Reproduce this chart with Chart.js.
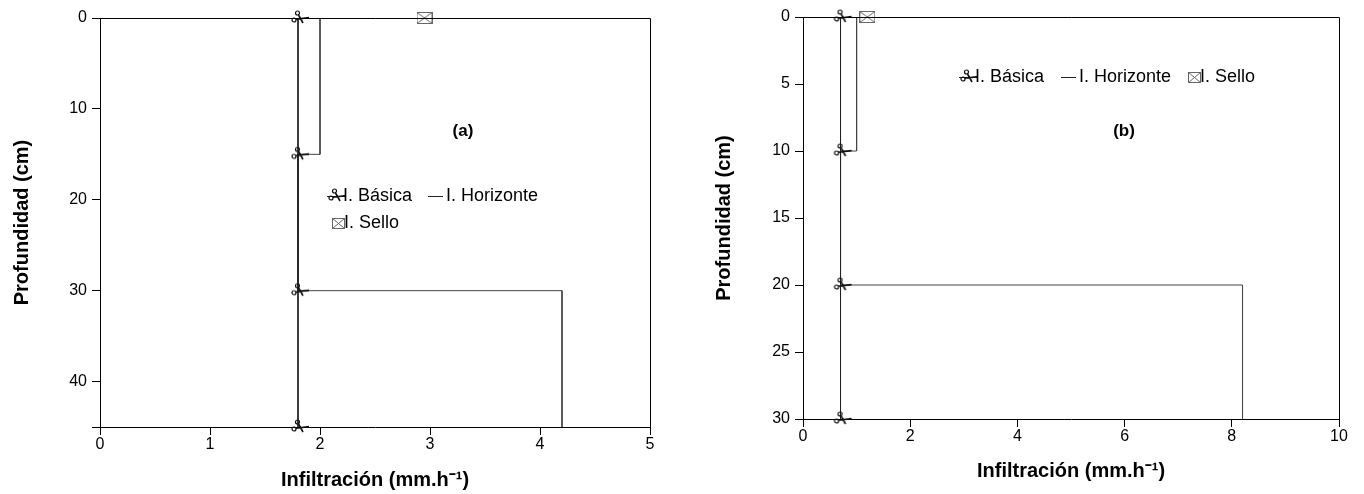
<!DOCTYPE html>
<html>
<head>
<meta charset="utf-8">
<script src="https://cdn.jsdelivr.net/npm/chart.js@4.4.0/dist/chart.umd.min.js"></script>
<style>
  html, body { margin: 0; padding: 0; background: #fff; }
  .panel { position: absolute; top: 0; width: 682px; height: 494px; }
  #wrapA { left: 0; }
  #wrapB { left: 682px; }
</style>
</head>
<body>
<div class="panel" id="wrapA"><canvas id="chartA"></canvas></div>
<div class="panel" id="wrapB"><canvas id="chartB"></canvas></div>
<script>
// panel (a)
var depthBasicaA = [0, 15, 30, 45];
var basicaA = [1.8, 1.8, 1.8, 1.8];
var depthHorizA = [0, 15, 15, 30, 30, 45];
var horizA = [2, 2, 1.8, 1.8, 4.2, 4.2];
var depthSelloA = [0];
var selloA = [2.95];
var xTicksA = [0, 1, 2, 3, 4, 5];
var yTicksA = [0, 10, 20, 30, 40, 45];

// panel (b)
var depthBasicaB = [0, 10, 20, 30];
var basicaB = [0.7, 0.7, 0.7, 0.7];
var depthHorizB = [0, 10, 10, 20, 20, 30];
var horizB = [1.0, 1.0, 0.7, 0.7, 8.2, 8.2];
var depthSelloB = [0];
var selloB = [1.2];
var xTicksB = [0, 2, 4, 6, 8, 10];
var yTicksB = [0, 5, 10, 15, 20, 25, 30];

var FONT = 'Liberation Sans';

function pts(xs, ys) {
  return xs.map(function (x, i) { return {x: x, y: ys[i]}; });
}

// marker images
function scissors() {
  var c = document.createElement('canvas');
  c.width = 24; c.height = 18;
  var g = c.getContext('2d');
  g.strokeStyle = '#111';
  g.lineWidth = 1.2;
  g.beginPath(); g.arc(11.5, 4, 2, 0, Math.PI * 2); g.stroke();
  g.beginPath(); g.arc(8, 11, 2, 0, Math.PI * 2); g.stroke();
  g.lineWidth = 1.6;
  g.beginPath();
  g.moveTo(12.5, 6); g.lineTo(17, 14);
  g.moveTo(9.8, 10.2); g.lineTo(23, 8.6);
  g.stroke();
  return c;
}
function envelope(w, h) {
  var c = document.createElement('canvas');
  c.width = w; c.height = h;
  var g = c.getContext('2d');
  g.strokeStyle = '#666';
  g.lineWidth = 1;
  g.strokeRect(0.5, 0.5, w - 1, h - 1);
  g.beginPath();
  g.moveTo(0.5, 0.5); g.lineTo(w / 2, h / 2); g.lineTo(w - 0.5, 0.5);
  g.moveTo(0.5, h - 0.5); g.lineTo(w / 2, h / 2); g.lineTo(w - 0.5, h - 0.5);
  g.stroke();
  return c;
}
var scissorImg = scissors();
var envImg = envelope(16, 12);
var envSmall = envelope(13, 11);

function datasets(xb, yb, xh, yh, xs, ys) {
  return [
    {label: 'I. Básica', data: pts(xb, yb), showLine: true, borderColor: '#222', borderWidth: 1,
     pointStyle: scissorImg, pointRadius: 6, clip: false},
    {label: 'I. Horizonte', data: pts(xh, yh), showLine: true, borderColor: '#444', borderWidth: 1,
     pointRadius: 0, clip: false},
    {label: 'I. Sello', data: pts(xs, ys), showLine: false, pointStyle: envImg, pointRadius: 7, clip: false}
  ];
}

function xAxis(max, ticks, h, pad) {
  return {
    type: 'linear', position: 'bottom', min: 0, max: max,
    afterBuildTicks: function (s) { s.ticks = ticks.map(function (v) { return {value: v}; }); },
    afterFit: function (s) { s.height = h; },
    grid: {drawOnChartArea: false, drawTicks: true, tickLength: 8, color: '#000'},
    border: {display: true, color: '#000'},
    ticks: {color: '#000', font: {family: FONT, size: 16}, padding: 0, maxRotation: 0, autoSkip: false},
    title: {display: true, text: 'Infiltración (mm.h\u207B\u00B9)', color: '#000',
            font: {family: FONT, size: 20, weight: 'bold'}, padding: {top: 0, bottom: pad}}
  };
}

function yAxis(max, ticks, w, pad) {
  return {
    type: 'linear', position: 'left', reverse: true, min: 0, max: max,
    afterBuildTicks: function (s) { s.ticks = ticks.map(function (v) { return {value: v}; }); },
    afterFit: function (s) { s.width = w; },
    grid: {drawOnChartArea: false, drawTicks: true, tickLength: 8, color: '#000'},
    border: {display: true, color: '#000'},
    ticks: {color: '#000', font: {family: FONT, size: 16}, padding: 5, autoSkip: false,
            callback: function (v) { return v % 5 === 0 && v !== 45 ? v : ''; }},
    title: {display: true, text: 'Profundidad (cm)', color: '#000',
            font: {family: FONT, size: 20, weight: 'bold'}, padding: {top: pad, bottom: 0}}
  };
}

// closes the box, writes the panel tag and the legend
var decor = {
  id: 'decor',
  afterDraw: function (chart, args, o) {
    var a = chart.chartArea, ctx = chart.ctx;
    var t = Math.round(a.top) + 0.5, r = Math.round(a.right) + 0.5;
    ctx.save();
    ctx.strokeStyle = '#000';
    ctx.lineWidth = 1;
    ctx.beginPath();
    ctx.moveTo(a.left, t); ctx.lineTo(r, t); ctx.lineTo(r, a.bottom);
    ctx.stroke();

    ctx.fillStyle = '#000';
    ctx.font = 'bold 17px "' + FONT + '"';
    ctx.textAlign = 'center';
    ctx.textBaseline = 'middle';
    ctx.fillText(o.tag, o.tagX, o.tagY);

    ctx.font = '18px "' + FONT + '"';
    ctx.textAlign = 'left';
    chart.data.datasets.forEach(function (ds, i) {
      var p = o.legend[i];
      if (i === 0) {
        ctx.strokeStyle = '#222';
        ctx.beginPath(); ctx.moveTo(p.x, p.y + 0.5); ctx.lineTo(p.x + 18, p.y + 0.5); ctx.stroke();
        ctx.drawImage(scissorImg, p.x + 8 - scissorImg.width / 2, p.y - scissorImg.height / 2);
        ctx.fillText(ds.label, p.x + 16, p.y);
      } else if (i === 1) {
        ctx.strokeStyle = '#222';
        ctx.beginPath(); ctx.moveTo(p.x, p.y + 0.5); ctx.lineTo(p.x + 15, p.y + 0.5); ctx.stroke();
        ctx.fillText(ds.label, p.x + 18, p.y);
      } else {
        ctx.drawImage(envSmall, p.x, Math.round(p.y - envSmall.height / 2));
        ctx.fillText(ds.label, p.x + 12, p.y);
      }
    });
    ctx.restore();
  }
};

function makeChart(id, data, xs, ys, pad, deco) {
  return new Chart(document.getElementById(id), {
    type: 'scatter',
    data: {datasets: data},
    options: {
      responsive: true,
      maintainAspectRatio: false,
      animation: false,
      layout: {padding: pad},
      plugins: {legend: {display: false}, tooltip: {enabled: false}, decor: deco},
      scales: {x: xs, y: ys}
    },
    plugins: [decor]
  });
}

makeChart('chartA',
  datasets(basicaA, depthBasicaA, horizA, depthHorizA, selloA, depthSelloA),
  xAxis(5, xTicksA, 67, 2), yAxis(45, yTicksA, 100, 10),
  {left: 0, top: 18, right: 32, bottom: 0},
  {tag: '(a)', tagX: 463, tagY: 131,
   legend: [{x: 327, y: 196}, {x: 428, y: 196}, {x: 332, y: 223}]});

makeChart('chartB',
  datasets(basicaB, depthBasicaB, horizB, depthHorizB, selloB, depthSelloB),
  xAxis(10, xTicksB, 75, 11), yAxis(30, yTicksB, 121, 30),
  {left: 0, top: 17, right: 25, bottom: 0},
  {tag: '(b)', tagX: 442, tagY: 131,
   legend: [{x: 277, y: 77}, {x: 379, y: 77}, {x: 506, y: 77}]});
</script>
</body>
</html>
